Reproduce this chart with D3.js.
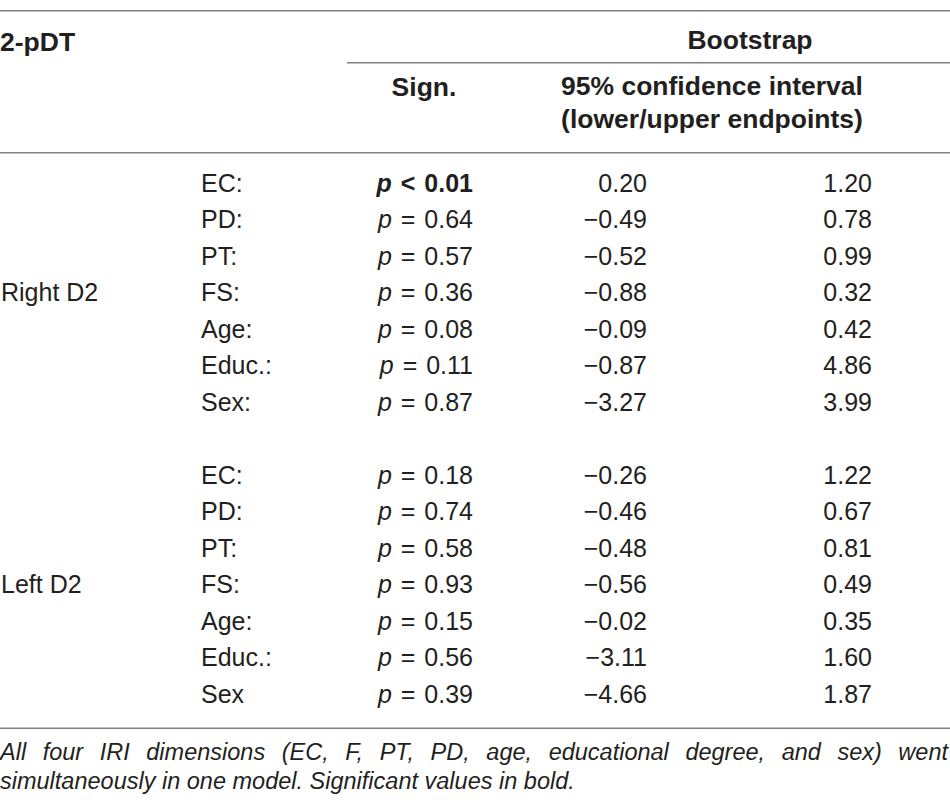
<!DOCTYPE html>
<html>
<head>
<meta charset="utf-8">
<script src="https://d3js.org/d3.v7.min.js"></script>
<style>
  body { margin: 0; background: #fff; }
  text { font-family: "Liberation Sans", Arial, Helvetica, sans-serif; fill: #231f20; }
</style>
</head>
<body>
<script>
// table data
var groups = ["Right D2", "Left D2"];

var rightLabels = ["EC:", "PD:", "PT:", "FS:", "Age:", "Educ.:", "Sex:"];
var rightRel    = ["<", "=", "=", "=", "=", "=", "="];
var rightP      = [0.01, 0.64, 0.57, 0.36, 0.08, 0.11, 0.87];
var rightLower  = [0.20, -0.49, -0.52, -0.88, -0.09, -0.87, -3.27];
var rightUpper  = [1.20, 0.78, 0.99, 0.32, 0.42, 4.86, 3.99];

var leftLabels = ["EC:", "PD:", "PT:", "FS:", "Age:", "Educ.:", "Sex"];
var leftRel    = ["=", "=", "=", "=", "=", "=", "="];
var leftP      = [0.18, 0.74, 0.58, 0.93, 0.15, 0.56, 0.39];
var leftLower  = [-0.26, -0.46, -0.48, -0.56, -0.02, -3.11, -4.66];
var leftUpper  = [1.22, 0.67, 0.81, 0.49, 0.35, 1.60, 1.87];

var footWords1 = "All four IRI dimensions (EC, F, PT, PD, age, educational degree, and sex) went".split(" ");
var footLine2 = "simultaneously in one model. Significant values in bold.";

var W = 950, H = 800;
var svg = d3.select("body").append("svg")
    .attr("width", W)
    .attr("height", H);

// build rows: group 1 in slots 0-6, group 2 in slots 8-14
var rows = [];
rightLabels.forEach(function(l, i) {
  rows.push({slot: i, label: l, rel: rightRel[i], p: rightP[i], lo: rightLower[i], up: rightUpper[i]});
});
leftLabels.forEach(function(l, i) {
  rows.push({slot: i + 8, label: l, rel: leftRel[i], p: leftP[i], lo: leftLower[i], up: leftUpper[i]});
});

var y = d3.scaleLinear().domain([0, 14]).range([191.7, 703]);
var fmt = d3.format(".2f");

// rules
var rules = [
  {x1: 0, x2: W, y: 10.7},
  {x1: 347, x2: W, y: 62.7},
  {x1: 0, x2: W, y: 152.7},
  {x1: 0, x2: W, y: 728.3}
];
svg.selectAll("line.rule").data(rules).enter().append("line")
  .attr("class", "rule")
  .attr("x1", function(d) { return d.x1; })
  .attr("x2", function(d) { return d.x2; })
  .attr("y1", function(d) { return d.y; })
  .attr("y2", function(d) { return d.y; })
  .style("stroke", "#808080")
  .style("stroke-width", 1.6);

// header
var head = svg.append("g").style("font-weight", "bold").style("font-size", "26.5px");
head.append("text").attr("x", 0).attr("y", 51).text("2-pDT");
head.append("text").attr("x", 750).attr("y", 49).attr("text-anchor", "middle").text("Bootstrap");
head.append("text").attr("x", 424).attr("y", 96).attr("text-anchor", "middle").text("Sign.");
head.append("text").attr("x", 712).attr("y", 95).attr("text-anchor", "middle").text("95% confidence interval");
head.append("text").attr("x", 712).attr("y", 128).attr("text-anchor", "middle").text("(lower/upper endpoints)");

// group labels, set on the FS row of each block
var body = svg.append("g").style("font-size", "25px");
body.selectAll("text.grp").data(groups).enter().append("text")
  .attr("class", "grp")
  .attr("x", 1)
  .attr("y", function(d, i) { return y(3 + i * 8); })
  .text(function(d) { return d; });

var row = body.selectAll("g.row").data(rows).enter().append("g")
  .attr("class", "row")
  .attr("transform", function(d) { return "translate(0," + y(d.slot) + ")"; });

row.append("text").attr("x", 201).text(function(d) { return d.label; });

var sig = row.append("text")
  .attr("x", 473)
  .attr("text-anchor", "end")
  .style("word-spacing", "2px")
  .style("font-weight", function(d) { return d.rel == "<" ? "bold" : "normal"; });
sig.append("tspan").style("font-style", "italic").text("p");
sig.append("tspan").text(function(d) { return " " + d.rel + " " + fmt(d.p); });

row.append("text").attr("x", 647).attr("text-anchor", "end").text(function(d) { return fmt(d.lo); });
row.append("text").attr("x", 872).attr("text-anchor", "end").text(function(d) { return fmt(d.up); });

// footnote, first line justified across the width
var foot = svg.append("g").style("font-size", "23.5px").style("font-style", "italic").style("fill", "#333");
var words = foot.selectAll("text.w").data(footWords1).enter().append("text")
  .attr("class", "w")
  .attr("y", 760)
  .text(function(d) { return d; });
var widths = [];
words.each(function() { widths.push(this.getComputedTextLength()); });
var gap = (W - 2 - d3.sum(widths)) / (widths.length - 1);
var xpos = 0;
words.attr("x", function(d, i) { var x = xpos; xpos += widths[i] + gap; return x; });

foot.append("text").attr("x", 0).attr("y", 789).text(footLine2);
</script>
</body>
</html>
